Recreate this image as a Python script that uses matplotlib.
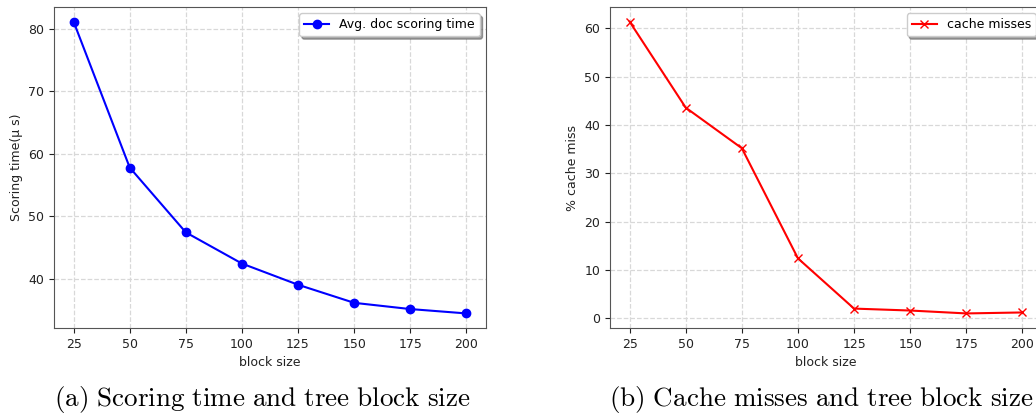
import matplotlib
matplotlib.use("Agg")
import matplotlib.pyplot as plt

plt.rcParams['mathtext.fontset'] = 'cm'

block_sizes = [25, 50, 75, 100, 125, 150, 175, 200]
scoring_time = [81.2, 57.8, 47.4, 42.4, 39.0, 36.1, 35.1, 34.4]
cache_misses = [61.4, 43.6, 35.2, 12.4, 2.0, 1.6, 1.0, 1.2]
xticks = [25, 50, 75, 100, 125, 150, 175, 200]

fig = plt.figure(figsize=(10.36, 4.17), dpi=100)
ax1 = fig.add_axes([0.0521, 0.2134, 0.417, 0.7696])
ax2 = fig.add_axes([0.5888, 0.2134, 0.417, 0.7696])

ax1.plot(block_sizes, scoring_time, color='blue', marker='o', markersize=6,
         linewidth=1.5, label='Avg. doc scoring time')
ax2.plot(block_sizes, cache_misses, color='red', marker='x', markersize=6,
         linewidth=1.5, label='cache misses')

for ax in (ax1, ax2):
    ax.set_xticks(xticks)
    ax.grid(True, linestyle='--', color='#d8d8d8', linewidth=0.9)
    ax.tick_params(labelsize=9, colors='#222222')
    ax.set_xlabel('block size', fontsize=9, color='#222222')
    for s in ax.spines.values():
        s.set_color('#555555')
    ax.legend(loc='upper right', fontsize=9, shadow=True, fancybox=True,
              handlelength=2.0, borderpad=0.4)

ax1.set_yticks([40, 50, 60, 70, 80])
ax1.set_ylabel('Scoring time(μ s)', fontsize=9, color='#222222')
ax2.set_yticks([0, 10, 20, 30, 40, 50, 60])
ax2.set_ylabel('% cache miss', fontsize=9, color='#222222')

fig.text(0.253, 0.042, r'$\mathrm{(a)\ Scoring\ time\ and\ tree\ block\ size}$',
         ha='center', va='center', fontsize=19.5)
fig.text(0.793, 0.042, r'$\mathrm{(b)\ Cache\ misses\ and\ tree\ block\ size}$',
         ha='center', va='center', fontsize=19.5)

fig.savefig('out.png', dpi=100)
